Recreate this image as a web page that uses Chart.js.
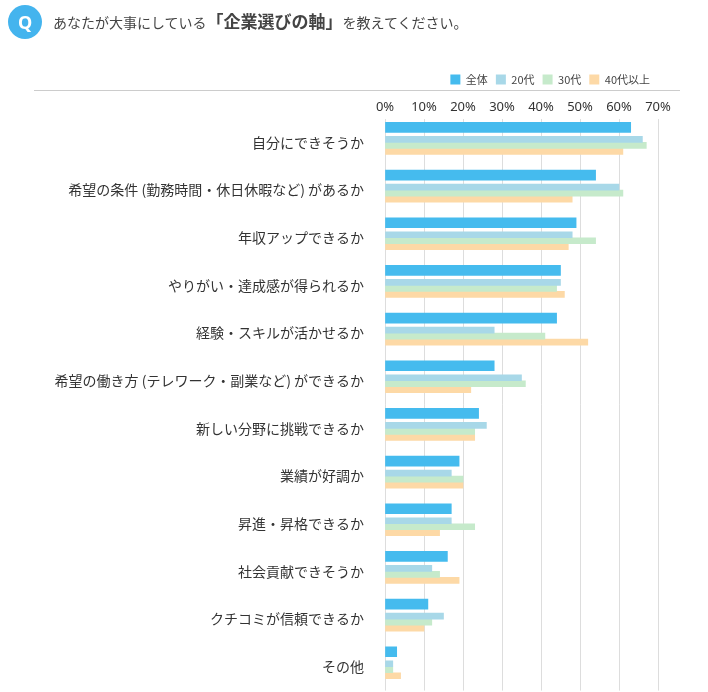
<!DOCTYPE html>
<html><head><meta charset="utf-8">
<script src="https://cdn.jsdelivr.net/npm/chart.js@4"></script>
<style>
body{margin:0;background:#fff;font-family:"Noto Sans CJK JP","Noto Sans",sans-serif;}
#wrap{position:relative;width:708px;height:692px;overflow:hidden;}
#q{position:absolute;left:8px;top:5px;width:34px;height:34px;border-radius:50%;background:#44b4ee;color:#fff;font:bold 18px "Noto Sans";text-align:center;line-height:34px;}
#title{position:absolute;left:53px;top:8px;font-size:14px;color:#444;white-space:nowrap;}
#title b{font-size:17px;}
#line{position:absolute;left:34px;top:90px;width:646px;height:1px;background:#ccc;}
canvas{position:absolute;left:0;top:0;}
</style></head><body>
<div id="wrap">
<canvas id="c" width="708" height="712"></canvas>
<div id="q">Q</div>
<div id="title">あなたが大事にしている<b>「企業選びの軸」</b>を教えてください。</div>
<div id="line"></div>
</div>
<script>
const categories=["自分にできそうか","希望の条件 (勤務時間・休日休暇など) があるか","年収アップできるか","やりがい・達成感が得られるか","経験・スキルが活かせるか","希望の働き方 (テレワーク・副業など) ができるか","新しい分野に挑戦できるか","業績が好調か","昇進・昇格できるか","社会貢献できそうか","クチコミが信頼できるか","その他"];
const seriesNames=["全体","20代","30代","40代以上"];
const all=[63,54,49,45,44,28,24,19,17,16,11,3];
const age20=[66,60,48,45,28,35,26,17,17,12,15,2];
const age30=[67,61,54,44,41,36,23,20,23,14,12,2];
const age40=[61,48,47,46,52,22,23,20,14,19,10,4];
const colors=["#45bbee","#a8d8e8","#c6eacb","#fdd9a6"];
const vals=[all,age20,age30,age40];
new Chart(document.getElementById('c'),{
 type:'bar',
 data:{labels:categories,datasets:vals.map((v,i)=>({label:seriesNames[i],data:v,backgroundColor:colors[i],barThickness:i==0?10:6,categoryPercentage:0.8,barPercentage:1}))},
 options:{indexAxis:'y',responsive:false,animation:false,
  layout:{padding:{top:66,right:50,left:0,bottom:2}},
  plugins:{legend:{align:'end',labels:{boxWidth:10,boxHeight:10,font:{size:11,family:"Noto Sans CJK JP"},color:'#444',padding:8}},tooltip:{enabled:false}},
  scales:{
   x:{position:'top',min:0,max:70,ticks:{stepSize:10,callback:v=>v+'%',font:{size:13,family:"Noto Sans"},color:'#333',padding:4},grid:{color:'#ddd',drawTicks:false},border:{display:false}},
   y:{afterFit:s=>{s.width=385;},ticks:{font:{size:14,family:"Noto Sans CJK JP"},color:'#333',padding:13},grid:{display:false},border:{display:false}}
  }}
});
</script></body></html>
